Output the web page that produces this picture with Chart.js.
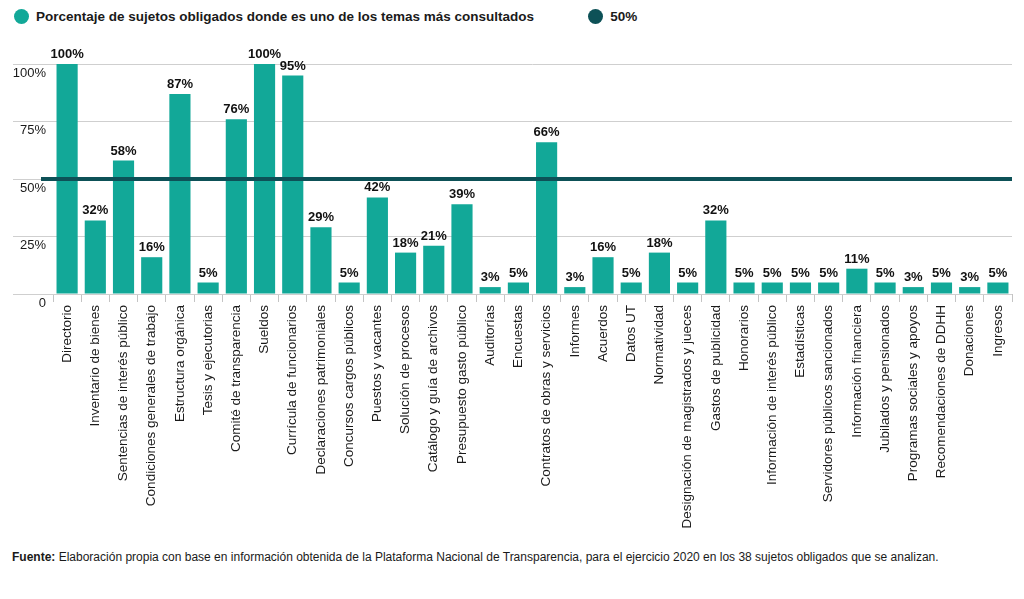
<!DOCTYPE html>
<html lang="es">
<head>
<meta charset="utf-8">
<title>Temas más consultados</title>
<script src="https://cdn.jsdelivr.net/npm/chart.js@4.4.1/dist/chart.umd.min.js"></script>
<style>
    html, body { margin: 0; padding: 0; background: #ffffff; }
    body { width: 1024px; height: 599px; position: relative; overflow: hidden; font-family: 'Liberation Sans', Arial, sans-serif; color: #1a1a1a; }
    #wrap { position: absolute; left: 0; top: 0; width: 1024px; height: 540px; }
    .legend { position: absolute; top: 9px; left: 14px; display: flex; align-items: center; font-weight: bold; font-size: 13.5px; }
    .legend span.dot { display: inline-block; width: 15px; height: 15px; border-radius: 50%; margin-right: 7px; }
    .legend .item { display: flex; align-items: center; margin-right: 54px; }
    .note { position: absolute; left: 12px; top: 550px; font-size: 12px; color: #1a1a1a; }
</style>
</head>
<body>
<div class="legend">
    <div class="item"><span class="dot" style="background:#12a898"></span>Porcentaje de sujetos obligados donde es uno de los temas más consultados</div>
    <div class="item"><span class="dot" style="background:#0d5157"></span>50%</div>
</div>
<div id="wrap"><canvas id="temasChart"></canvas></div>
<div class="note"><b>Fuente:</b> Elaboración propia con base en información obtenida de la Plataforma Nacional de Transparencia, para el ejercicio 2020 en los 38 sujetos obligados que se analizan.</div>

<script>
const temas = [
    'Directorio', 'Inventario de bienes', 'Sentencias de interés público', 'Condiciones generales de trabajo',
    'Estructura orgánica', 'Tesis y ejecutorias', 'Comité de transparencia', 'Sueldos',
    'Currícula de funcionarios', 'Declaraciones patrimoniales', 'Concursos cargos públicos', 'Puestos y vacantes',
    'Solución de procesos', 'Catálogo y guía de archivos', 'Presupuesto gasto público', 'Auditorías',
    'Encuestas', 'Contratos de obras y servicios', 'Informes', 'Acuerdos',
    'Datos UT', 'Normatividad', 'Designación de magistrados y jueces', 'Gastos de publicidad',
    'Honorarios', 'Información de interés público', 'Estadísticas', 'Servidores públicos sancionados',
    'Información financiera', 'Jubilados y pensionados', 'Programas sociales y apoyos', 'Recomendaciones de DDHH',
    'Donaciones', 'Ingresos'
];
const porcentajes = [
    100, 32, 58, 16,
    87, 5, 76, 100,
    95, 29, 5, 42,
    18, 21, 39, 3,
    5, 66, 3, 16,
    5, 18, 5, 32,
    5, 5, 5, 5,
    11, 5, 3, 5,
    3, 5
];
const umbral = [
    50, 50, 50, 50, 50, 50, 50, 50, 50, 50, 50, 50, 50, 50, 50, 50, 50,
    50, 50, 50, 50, 50, 50, 50, 50, 50, 50, 50, 50, 50, 50, 50, 50, 50
];
const yTicks = [0, 25, 50, 75, 100];

const TEAL = '#12a898';
const DARK = '#0d5157';
const FONT = "'Liberation Sans', Arial, sans-serif";

// etiquetas sobre las barras y la línea del 50%
const extrasPlugin = {
    id: 'extras',
    afterDatasetsDraw(chart) {
        const ctx = chart.ctx;
        const area = chart.chartArea;
        const yScale = chart.scales.y;

        const lineMeta = chart.getDatasetMeta(1);
        if (lineMeta.data.length) {
            const yv = yScale.getPixelForValue(chart.data.datasets[1].data[0]);
            ctx.save();
            ctx.strokeStyle = DARK;
            ctx.lineWidth = 4;
            ctx.beginPath();
            ctx.moveTo(area.left - 12, yv);
            ctx.lineTo(area.right, yv);
            ctx.stroke();
            ctx.restore();
        }

        const meta = chart.getDatasetMeta(0);
        ctx.save();
        ctx.font = 'bold 13px ' + FONT;
        ctx.fillStyle = '#111111';
        ctx.textAlign = 'center';
        ctx.textBaseline = 'bottom';
        meta.data.forEach((bar, i) => {
            ctx.fillText(porcentajes[i] + '%', bar.x, bar.y - 3);
        });
        ctx.restore();
    }
};

new Chart(document.getElementById('temasChart'), {
    type: 'bar',
    data: {
        labels: temas,
        datasets: [{
            label: 'Porcentaje de sujetos obligados donde es uno de los temas más consultados',
            data: porcentajes,
            backgroundColor: TEAL,
            borderWidth: 0,
            categoryPercentage: 1,
            barPercentage: 0.75,
            order: 2
        }, {
            type: 'line',
            label: '50%',
            data: umbral,
            borderColor: DARK,
            backgroundColor: DARK,
            showLine: false,
            pointRadius: 0,
            pointHoverRadius: 0,
            order: 1
        }]
    },
    options: {
        responsive: true,
        maintainAspectRatio: false,
        animation: false,
        layout: {
            padding: { left: 13, right: 12, top: 64, bottom: 4 }
        },
        plugins: {
            legend: { display: false },
            tooltip: { enabled: false }
        },
        scales: {
            x: {
                afterFit(scale) {
                    // el eje cabe entero, sin el tope de media altura
                    scale.height = 242;
                },
                grid: {
                    offset: true,
                    drawOnChartArea: false,
                    tickLength: 8,
                    color: '#c4c4c4'
                },
                border: { display: false },
                ticks: {
                    autoSkip: false,
                    maxRotation: 90,
                    minRotation: 90,
                    padding: 3,
                    color: '#1a1a1a',
                    font: { family: FONT, size: 13.5 }
                }
            },
            y: {
                min: 0,
                max: 100,
                afterBuildTicks(scale) {
                    scale.ticks = yTicks.map(v => ({ value: v }));
                },
                afterFit(scale) {
                    scale.width = 40;
                },
                grid: {
                    color: '#cfcfcf',
                    tickLength: 40
                },
                border: { display: false },
                ticks: {
                    padding: -33,
                    labelOffset: 9,
                    color: '#1a1a1a',
                    font: { family: FONT, size: 13 },
                    callback: v => v === 0 ? '0' : v + '%'
                }
            }
        }
    },
    plugins: [extrasPlugin]
});
</script>
</body>
</html>
